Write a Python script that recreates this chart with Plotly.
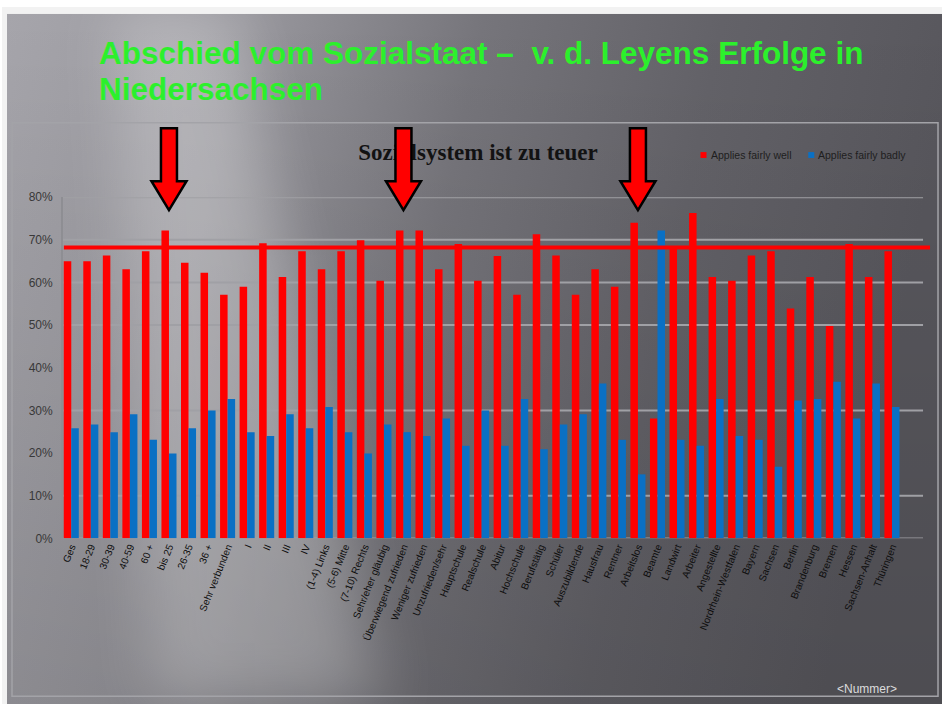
import base64
import plotly.graph_objects as go

# ---- data -------------------------------------------------------------
categories = [
    "Ges", "18-29", "30-39", "40-59", "60 +", "bis 25", "26-35", "36 +",
    "Sehr verbunden", "I", "II", "III", "IV",
    "(1-4) Links", "(5-6) Mitte", "(7-10) Rechts",
    "Sehr/eher gläubig", "Überwiegend zufrieden", "Weniger zufrieden",
    "Unzufrieden/sehr", "Hauptschule", "Realschule", "Abitur", "Hochschule",
    "Berufstätig", "Schüler", "Auszubildende", "Hausfrau", "Rentner",
    "Arbeitslos", "Beamte", "Landwirt", "Arbeiter", "Angestellte",
    "Nordrhein-Westfalen", "Bayern", "Sachsen", "Berlin", "Brandenburg",
    "Bremen", "Hessen", "Sachsen-Anhalt", "Thüringen",
]

applies_well = [
    65.0, 65.0, 66.3, 63.1, 67.3, 72.2, 64.6, 62.3, 57.1, 59.0,
    69.2, 61.3, 67.3, 63.1, 67.3, 69.9, 60.4, 72.2, 72.2, 63.1,
    69.0, 60.4, 66.2, 57.1, 71.3, 66.3, 57.1, 63.1, 59.0, 74.0,
    28.1, 68.2, 76.3, 61.3, 60.4, 66.3, 67.3, 53.9, 61.3, 49.8,
    69.0, 61.3, 67.3,
]

applies_badly = [
    25.8, 26.7, 24.9, 29.1, 23.1, 19.9, 25.8, 30.0, 32.7, 24.9,
    24.0, 29.1, 25.8, 30.8, 24.9, 19.9, 26.7, 24.9, 24.0, 28.1,
    21.7, 30.0, 21.7, 32.7, 20.9, 26.7, 29.1, 36.3, 23.1, 15.0,
    72.2, 23.1, 21.7, 32.7, 24.0, 23.1, 16.8, 32.3, 32.7, 36.7,
    28.1, 36.3, 30.8,
]

y_ticks = [0, 10, 20, 30, 40, 50, 60, 70, 80]
y_tick_labels = ["0%", "10%", "20%", "30%", "40%", "50%", "60%", "70%", "80%"]
grid_levels = [0, 10, 30, 50, 60, 70, 80]
reference_level = 68.2
highlighted = [5, 17, 29]

title_lines = ["Abschied vom Sozialstaat –  v. d. Leyens Erfolge in", "Niedersachsen"]
chart_title = "Sozialsystem ist zu teuer"
legend_labels = ["Applies fairly well", "Applies fairly badly"]

W, H = 942, 711
RED = "#ff0000"
BLUE = "#0a70c4"

# ---- slide background (gradient with a soft light sweep) --------------
bg_svg = f"""<svg xmlns="http://www.w3.org/2000/svg" width="{W}" height="{H}" viewBox="0 0 {W} {H}">
<defs>
<linearGradient id="g" x1="0" y1="0" x2="1" y2="0.15">
<stop offset="0" stop-color="#a6a5ab"/>
<stop offset="0.25" stop-color="#99989e"/>
<stop offset="0.5" stop-color="#76757b"/>
<stop offset="0.75" stop-color="#636268"/>
<stop offset="1" stop-color="#58575d"/>
</linearGradient>
<linearGradient id="v" x1="0" y1="0" x2="0" y2="1">
<stop offset="0" stop-color="#000" stop-opacity="0"/>
<stop offset="1" stop-color="#000" stop-opacity="0.12"/>
</linearGradient>
<filter id="b" x="-50%" y="-50%" width="200%" height="200%"><feGaussianBlur stdDeviation="30"/></filter>
<clipPath id="c"><rect x="5" y="7" width="{W-5}" height="{H-7}"/></clipPath>
</defs>
<rect width="{W}" height="{H}" fill="#f2f2f2"/>
<g clip-path="url(#c)">
<rect x="5" y="7" width="{W-5}" height="{H-7}" fill="url(#g)"/>
<rect x="5" y="7" width="{W-5}" height="{H-7}" fill="url(#v)"/>
<polygon points="110,0 230,0 380,711 150,711" fill="#ffffff" opacity="0.25" filter="url(#b)"/>
</g>
</svg>"""
bg_uri = "data:image/svg+xml;base64," + base64.b64encode(bg_svg.encode("utf-8")).decode("ascii")

# ---- plot geometry (pixels on the page) --------------------------------
PL, PR, PT, PB = 61, 923, 194, 542
x_dom = [PL / W, PR / W]
y_dom = [1 - PB / H, 1 - PT / H]

fig = go.Figure()

fig.add_trace(go.Bar(
    x=categories, y=applies_well, name=legend_labels[0],
    marker=dict(color=RED, line=dict(width=0)), showlegend=False,
))
fig.add_trace(go.Bar(
    x=categories, y=applies_badly, name=legend_labels[1],
    marker=dict(color=BLUE, line=dict(width=0)), showlegend=False,
))

# chart heading drawn as a text trace on a page-pixel overlay so the arrows sit on top of it
fig.add_trace(go.Scatter(
    x=[477], y=[150], mode="text", text=[chart_title],
    textfont=dict(family="Liberation Serif, DejaVu Serif, serif", size=23,
                  color="#121212", weight="bold"),
    xaxis="x2", yaxis="y2", hoverinfo="skip", showlegend=False, cliponaxis=False,
))

shapes = []
# chart area frame
shapes.append(dict(type="rect", xref="paper", yref="paper",
                   x0=10 / W, x1=938 / W, y0=1 - 703 / H, y1=1 - 118 / H,
                   line=dict(color="#a3a3a8", width=1.5), fillcolor="rgba(0,0,0,0)", layer="below"))
# horizontal gridlines
for g in grid_levels:
    shapes.append(dict(type="line", xref="x domain", yref="y", x0=0, x1=1, y0=g, y1=g,
                       line=dict(color="#a0a0a5", width=2 if g else 1.5), layer="below"))
# reference line across the chart
shapes.append(dict(type="line", xref="paper", yref="y", x0=62 / W, x1=930 / W,
                   y0=reference_level, y1=reference_level,
                   line=dict(color=RED, width=4), layer="above"))
# arrows pointing at highlighted categories (anchored at the top edge of the plot)
arrow_path = "M-8,69 L8,69 L8,16 L17.5,16 L0,-13 L-17.5,16 L-8,16 Z"
for i in highlighted:
    shapes.append(dict(type="path", xref="x", yref="paper",
                       xsizemode="pixel", ysizemode="pixel",
                       xanchor=categories[i], yanchor=y_dom[1],
                       path=arrow_path, fillcolor=RED,
                       line=dict(color="#000000", width=2.5), layer="above"))
# legend swatches
shapes.append(dict(type="rect", xref="paper", yref="paper",
                   x0=700 / W, x1=706 / W, y0=1 - 154 / H, y1=1 - 148 / H,
                   fillcolor=RED, line=dict(width=0)))
shapes.append(dict(type="rect", xref="paper", yref="paper",
                   x0=808 / W, x1=814 / W, y0=1 - 154 / H, y1=1 - 148 / H,
                   fillcolor=BLUE, line=dict(width=0)))

narrow = "Liberation Sans Narrow, Arial Narrow, Liberation Sans, Arial, sans-serif"
title_font = dict(family="Liberation Sans, Arial, sans-serif", size=31.5, color="#2cf02c", weight="bold")
annotations = [
    dict(text=title_lines[0], x=95 / W, y=1 - 47 / H, xref="paper", yref="paper",
         xanchor="left", yanchor="middle", showarrow=False, font=title_font),
    dict(text=title_lines[1], x=95 / W, y=1 - 84 / H, xref="paper", yref="paper",
         xanchor="left", yanchor="middle", showarrow=False, font=title_font),
    dict(text=legend_labels[0], x=709 / W, y=1 - 151 / H, xref="paper", yref="paper",
         xanchor="left", yanchor="middle", showarrow=False,
         font=dict(family=narrow, size=10.5, color="#1e1e1e")),
    dict(text=legend_labels[1], x=816 / W, y=1 - 151 / H, xref="paper", yref="paper",
         xanchor="left", yanchor="middle", showarrow=False,
         font=dict(family=narrow, size=10.5, color="#1e1e1e")),
    dict(text="&lt;Nummer&gt;", x=867 / W, y=1 - 696 / H, xref="paper", yref="paper",
         xanchor="center", yanchor="middle", showarrow=False,
         font=dict(family="Liberation Sans, Arial, sans-serif", size=12, color="#dcdcdc")),
]

fig.update_layout(
    width=W, height=H, autosize=False,
    margin=dict(l=0, r=0, t=0, b=0, pad=0),
    paper_bgcolor="#ffffff", plot_bgcolor="rgba(0,0,0,0)",
    barmode="group", bargap=0.23, bargroupgap=0.0,
    showlegend=False,
    images=[dict(source=bg_uri, xref="paper", yref="paper", x=0, y=1,
                 sizex=1, sizey=1, xanchor="left", yanchor="top",
                 sizing="stretch", layer="below")],
    xaxis=dict(domain=x_dom, type="category", range=[-0.43, 43.59],
               tickangle=-68, tickfont=dict(family=narrow, size=10, color="#0d0d0d"),
               showgrid=False, zeroline=False, showline=False, ticks="",
               fixedrange=True),
    yaxis=dict(domain=y_dom, range=[0, 80], tickmode="array",
               tickvals=y_ticks, ticktext=y_tick_labels,
               tickfont=dict(family=narrow, size=12, color="#383838"),
               showgrid=False, zeroline=False, showline=True, linecolor="#8e8e93",
               linewidth=1.5, ticks="", ticklabelstandoff=6, fixedrange=True),
    xaxis2=dict(domain=[0, 1], range=[0, W], visible=False, fixedrange=True),
    yaxis2=dict(domain=[0, 1], range=[H, 0], visible=False, fixedrange=True, anchor="x2"),
    shapes=shapes,
    annotations=annotations,
)

fig.write_html("out.html")
